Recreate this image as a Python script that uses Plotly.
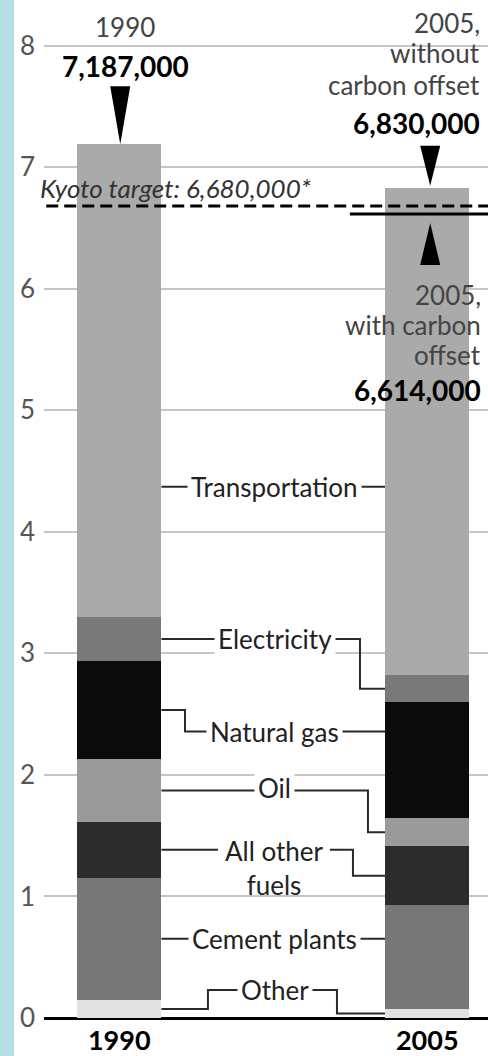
import plotly.graph_objects as go

# ---------------- data (millions of tonnes CO2 equivalent) ----------------
years = ["1990", "2005"]
categories = ["Other", "Cement plants", "All other fuels", "Oil",
              "Natural gas", "Electricity", "Transportation"]
values_1990 = [0.150, 1.005, 0.460, 0.514, 0.808, 0.361, 3.889]
values_2005 = [0.074, 0.856, 0.482, 0.230, 0.958, 0.218, 4.012]
total_1990 = 7187000
total_2005 = 6830000
total_2005_offset = 6614000
kyoto_target = 6680000
y_ticks = [0, 1, 2, 3, 4, 5, 6, 7, 8]

# ---------------- styles ----------------
colors = ["#e1e1e1", "#777777", "#2c2c2c", "#9a9a9a", "#0b0b0b", "#797979", "#aaaaaa"]
FONT = "Lato"
FS = 26
FSB = 28
X = [0, 1]
BAR_W = 0.274
X_RANGE = [-0.2443, 1.1974]
Y_RANGE = [0, 8.292]
LEAD = dict(color="#2a2a2a", width=2)

fig = go.Figure()
for i, cat in enumerate(categories):
    fig.add_bar(x=X, y=[values_1990[i], values_2005[i]], width=BAR_W,
                marker=dict(color=colors[i], line=dict(width=0)),
                name=cat, showlegend=False, hoverinfo="skip")


def mids(vals):
    out, c = [], 0.0
    for v in vals:
        out.append(c + v / 2)
        c += v
    return out


m90 = mids(values_1990)
m05 = mids(values_2005)
xL = X[0] + BAR_W / 2
xR = X[1] - BAR_W / 2

# label vertical positions / elbow positions (layout constants)
Y_TRANS = 4.37
Y_NG = 2.356
Y_OTHER = 0.23
paths = [
    [(xL, Y_TRANS), (xR, Y_TRANS)],
    [(xL, m90[5]), (0.7817, m90[5]), (0.7817, m05[5]), (xR, m05[5])],
    [(xL, m90[4]), (0.2135, m90[4]), (0.2135, Y_NG), (xR, Y_NG)],
    [(xL, m90[3]), (0.8076, m90[3]), (0.8076, m05[3]), (xR, m05[3])],
    [(xL, m90[2]), (0.3206, m90[2]), (None, None), (0.684, m90[2]),
     (0.7589, m90[2]), (0.7589, m05[2]), (xR, m05[2])],
    [(xL, m90[1]), (xR, m90[1])],
    [(xL, m90[0]), (0.288, m90[0]), (0.288, Y_OTHER), (0.707, Y_OTHER),
     (0.707, m05[0]), (xR, m05[0])],
]
for p in paths:
    fig.add_scatter(x=[a for a, b in p], y=[b for a, b in p], mode="lines",
                    line=LEAD, showlegend=False, hoverinfo="skip",
                    connectgaps=False)

XC = 0.505
labels = [
    ("Transportation", Y_TRANS, 0),
    ("Electricity", m90[5], 0),
    ("Natural gas", Y_NG, 0),
    ("Oil", m90[3], 2),
    ("Cement plants", m90[1], 0),
    ("Other", Y_OTHER, 0),
]
for txt, yv, ys in labels:
    fig.add_annotation(x=XC, y=yv, yshift=ys, text=txt, showarrow=False,
                       xanchor="center", yanchor="middle", bgcolor="white",
                       borderpad=3, font=dict(family=FONT, size=FS, color="#222"))
fig.add_annotation(x=XC, y=m90[2], yshift=17, text="All other<br>fuels",
                   showarrow=False, xanchor="center", yanchor="top",
                   font=dict(family=FONT, size=FS, color="#222"))

# ---------------- totals & markers ----------------
t90 = total_1990 / 1e6
t05 = total_2005 / 1e6
t05o = total_2005_offset / 1e6
kt = kyoto_target / 1e6


def tri(xa, ya, pts):
    path = "M " + " L ".join(f"{a},{b}" for a, b in pts) + " Z"
    fig.add_shape(type="path", xref="x", yref="y", xsizemode="pixel",
                  ysizemode="pixel", xanchor=xa, yanchor=ya, path=path,
                  fillcolor="black", line=dict(width=0))


tri(X[0], t90, [(-9, 58), (11, 58), (1, 0)])
tri(X[1], t05, [(-7, 42), (13, 42), (3, 2)])
tri(X[1], t05o, [(3, -9), (13, -51), (-7, -51)])

# Kyoto line and offset line
fig.add_shape(type="line", xref="paper", yref="y", x0=0.005, x1=1, y0=kt, y1=kt,
              line=dict(color="black", width=3, dash="12px,6px"))
fig.add_shape(type="line", xref="x", yref="y", x0=0.749, x1=X_RANGE[1],
              y0=t05o, y1=t05o, line=dict(color="black", width=3))

fig.add_annotation(xref="paper", x=0, xshift=-6, y=kt, yshift=18,
                   text=f"<i>Kyoto target: {kyoto_target:,}*</i>", showarrow=False,
                   xanchor="left", yanchor="middle",
                   font=dict(family=FONT, size=FS, color="#333"))

# 1990 labels
fig.add_annotation(x=X[0], xshift=6, y=t90, yshift=117, text=years[0],
                   showarrow=False, xanchor="center", yanchor="middle",
                   font=dict(family=FONT, size=FS, color="#444"))
fig.add_annotation(x=X[0], xshift=6, y=t90, yshift=78, text=f"<b>{total_1990:,}</b>",
                   showarrow=False, xanchor="center", yanchor="middle",
                   font=dict(family=FONT, size=FSB, color="black"))

# 2005 labels, top
for txt, ys, col, fs in [("2005,", 165, "#444", FS), ("without", 135, "#444", FS),
                         ("carbon offset", 103, "#444", FS),
                         (f"<b>{total_2005:,}</b>", 65, "black", FSB)]:
    fig.add_annotation(xref="paper", x=1, xshift=-6, y=t05, yshift=ys, text=txt,
                       showarrow=False, xanchor="right", yanchor="middle",
                       font=dict(family=FONT, size=fs, color=col))
# 2005 labels, with offset
for txt, ys, col, fs in [("2005,", -81, "#444", FS), ("with carbon", -111, "#444", FS),
                         ("offset", -141, "#444", FS),
                         (f"<b>{total_2005_offset:,}</b>", -176, "black", FSB)]:
    fig.add_annotation(xref="paper", x=1, xshift=-5, y=t05o, yshift=ys, text=txt,
                       showarrow=False, xanchor="right", yanchor="middle",
                       font=dict(family=FONT, size=fs, color=col))

# left blue strip
fig.add_shape(type="rect", xref="paper", yref="paper", x0=-44 / 444, x1=-30 / 444,
              y0=-0.1, y1=1.1, fillcolor="#b6dde2", line=dict(width=0), layer="below")

fig.update_layout(
    width=488, height=1056, margin=dict(l=44, r=0, t=10, b=36),
    paper_bgcolor="white", plot_bgcolor="white", barmode="stack", bargap=0,
    font=dict(family=FONT, size=FS),
    xaxis=dict(range=X_RANGE, tickvals=X, ticktext=[f"<b>{y}</b>" for y in years],
               showgrid=False, zeroline=False, showline=False, ticks="",
               ticklabelstandoff=4,
               tickfont=dict(family=FONT, size=27, color="black"), fixedrange=True),
    yaxis=dict(range=Y_RANGE, tickvals=y_ticks, showgrid=True, gridcolor="#c6c6c6",
               gridwidth=1.5, zeroline=True, zerolinecolor="black", zerolinewidth=2.5,
               ticks="", ticklabelstandoff=8, showline=False,
               tickfont=dict(family=FONT, size=FS, color="#555"), fixedrange=True),
)

fig.write_html("out.html")
